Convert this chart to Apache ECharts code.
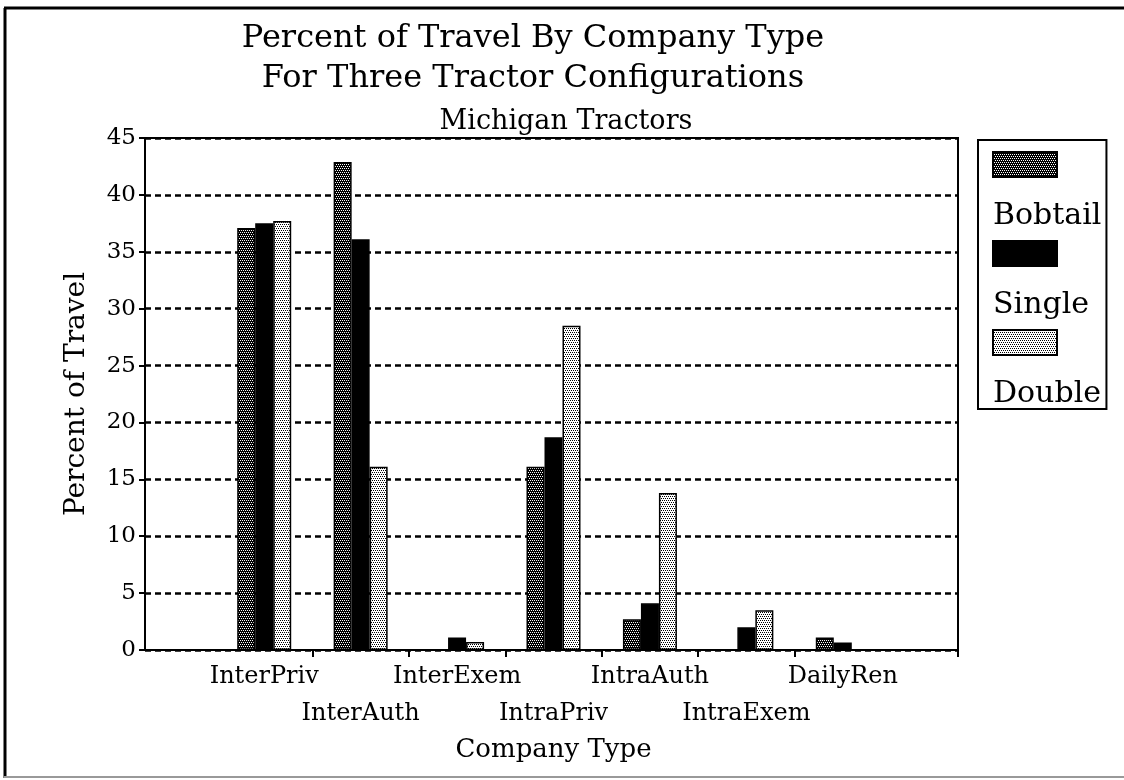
<!DOCTYPE html>
<html>
<head>
<meta charset="utf-8">
<script src="https://cdn.jsdelivr.net/npm/echarts@6/dist/echarts.min.js"></script>
<style>
  html, body { margin: 0; padding: 0; background: #fff; }
  #chart { width: 1124px; height: 780px; }
</style>
</head>
<body>
<div id="chart"></div>
<script>
// data
const categories = ['InterPriv', 'InterAuth', 'InterExem', 'IntraPriv', 'IntraAuth', 'IntraExem', 'DailyRen'];
const bobtail = [37.1, 42.9, 0, 16.1, 2.7, 0, 1.1];
const single = [37.5, 36.1, 1.1, 18.7, 4.1, 2.0, 0.65];
const double = [37.7, 16.1, 0.7, 28.5, 13.8, 3.5, 0];
const seriesNames = ['Bobtail', 'Single', 'Double'];
// category boundaries that carry a tick on the bottom axis, plus the right end
const boundaryTicks = [1, 2, 3, 4, 5, 6, 7.695];

const FONT = 'DejaVu Serif';

// small dot patterns like the old printout
const makePattern = (bg, fg) => {
    const c = document.createElement('canvas');
    c.width = 4;
    c.height = 4;
    const ctx = c.getContext('2d');
    ctx.fillStyle = bg;
    ctx.fillRect(0, 0, 4, 4);
    ctx.fillStyle = fg;
    [[0, 0], [2, 0], [1, 2], [3, 2]].forEach(p => ctx.fillRect(p[0], p[1], 1, 1));
    return { image: c, repeat: 'repeat' };
};

const fills = [makePattern('#000', '#fff'), '#000', makePattern('#fff', '#000')];
const values = [bobtail, single, double];

const myChart = echarts.init(document.getElementById('chart'), null, { renderer: 'canvas' });

const option = {
    backgroundColor: '#fff',
    animation: false,
    textStyle: { fontFamily: FONT, color: '#000' },
    title: [
        {
            text: 'Percent of Travel By Company Type\nFor Three Tractor Configurations',
            left: 533,
            top: 19,
            padding: 0,
            textAlign: 'center',
            textStyle: { fontFamily: FONT, fontSize: 32, lineHeight: 40, fontWeight: 'normal', color: '#000' }
        },
        {
            text: 'Michigan Tractors',
            left: 566,
            top: 108,
            padding: 0,
            textAlign: 'center',
            textStyle: { fontFamily: FONT, fontSize: 27, fontWeight: 'normal', color: '#000' }
        }
    ],
    legend: {
        data: seriesNames,
        orient: 'vertical',
        left: 978,
        top: 140,
        padding: [11, 5, 0, 14],
        itemWidth: 64,
        itemHeight: 25,
        itemGap: 9,
        borderColor: '#000',
        borderWidth: 2,
        icon: 'rect',
        formatter: name => '{t|' + name + '}',
        textStyle: {
            rich: {
                // push the name under the swatch
                t: { fontFamily: FONT, fontSize: 30, color: '#000', padding: [103, 0, 0, -69] }
            }
        }
    },
    grid: [
        // frame grid: box, dashed grid lines, y axis
        { left: 145, right: 166, top: 138, bottom: 130, show: true, borderColor: '#000', borderWidth: 2 },
        // bar grid: the seven company slots
        { left: 216, right: 233, top: 138, bottom: 130 }
    ],
    xAxis: [
        {
            gridIndex: 0,
            type: 'value',
            min: -0.736,
            max: 7.695,
            axisLine: { show: true, onZero: false, lineStyle: { color: '#000', width: 2 } },
            axisTick: { show: true, customValues: boundaryTicks, length: 7, lineStyle: { color: '#000', width: 2 } },
            axisLabel: { show: false },
            splitLine: { show: false }
        },
        {
            gridIndex: 1,
            type: 'category',
            data: categories,
            name: 'Company Type',
            nameLocation: 'middle',
            nameGap: 87,
            nameTextStyle: { fontFamily: FONT, fontSize: 26, color: '#000' },
            axisLine: { show: false },
            axisTick: { show: false },
            axisLabel: {
                interval: 0,
                margin: 8,
                fontFamily: FONT,
                fontSize: 24,
                lineHeight: 37,
                color: '#000',
                formatter: (v, i) => (i % 2 === 1 ? '\n' + v : v)
            }
        }
    ],
    yAxis: [
        {
            gridIndex: 0,
            type: 'value',
            min: 0,
            max: 45,
            interval: 5,
            name: 'Percent of Travel',
            nameLocation: 'middle',
            nameGap: 54,
            nameTextStyle: { fontFamily: FONT, fontSize: 28, color: '#000' },
            axisLine: { show: true, onZero: false, lineStyle: { color: '#000', width: 2 } },
            axisTick: { show: true, length: 6, lineStyle: { color: '#000', width: 2 } },
            axisLabel: { fontFamily: FONT, fontSize: 23, color: '#000', margin: 9 },
            splitLine: { show: true, lineStyle: { color: '#000', width: 2.5, type: [6, 4] } }
        },
        {
            gridIndex: 1,
            type: 'value',
            min: 0,
            max: 45,
            interval: 5,
            show: false,
            axisLine: { show: false },
            axisTick: { show: false },
            axisLabel: { show: false },
            splitLine: { show: false }
        }
    ],
    graphic: [
        { type: 'line', shape: { x1: 5, y1: 8, x2: 5, y2: 778 }, style: { stroke: '#000', lineWidth: 3 } },
        { type: 'line', shape: { x1: 4, y1: 8, x2: 1124, y2: 8 }, style: { stroke: '#000', lineWidth: 3 } },
        { type: 'line', shape: { x1: 4, y1: 777, x2: 1124, y2: 777 }, style: { stroke: '#999', lineWidth: 2 } }
    ],
    series: seriesNames.map((name, k) => ({
        name: name,
        type: 'bar',
        xAxisIndex: 1,
        yAxisIndex: 1,
        barWidth: 18,
        barGap: '0%',
        data: values[k],
        itemStyle: { color: fills[k], borderColor: '#000', borderWidth: 1.5 },
        emphasis: { disabled: true }
    }))
};

myChart.setOption(option);
window.addEventListener('resize', () => myChart.resize());
</script>
</body>
</html>
